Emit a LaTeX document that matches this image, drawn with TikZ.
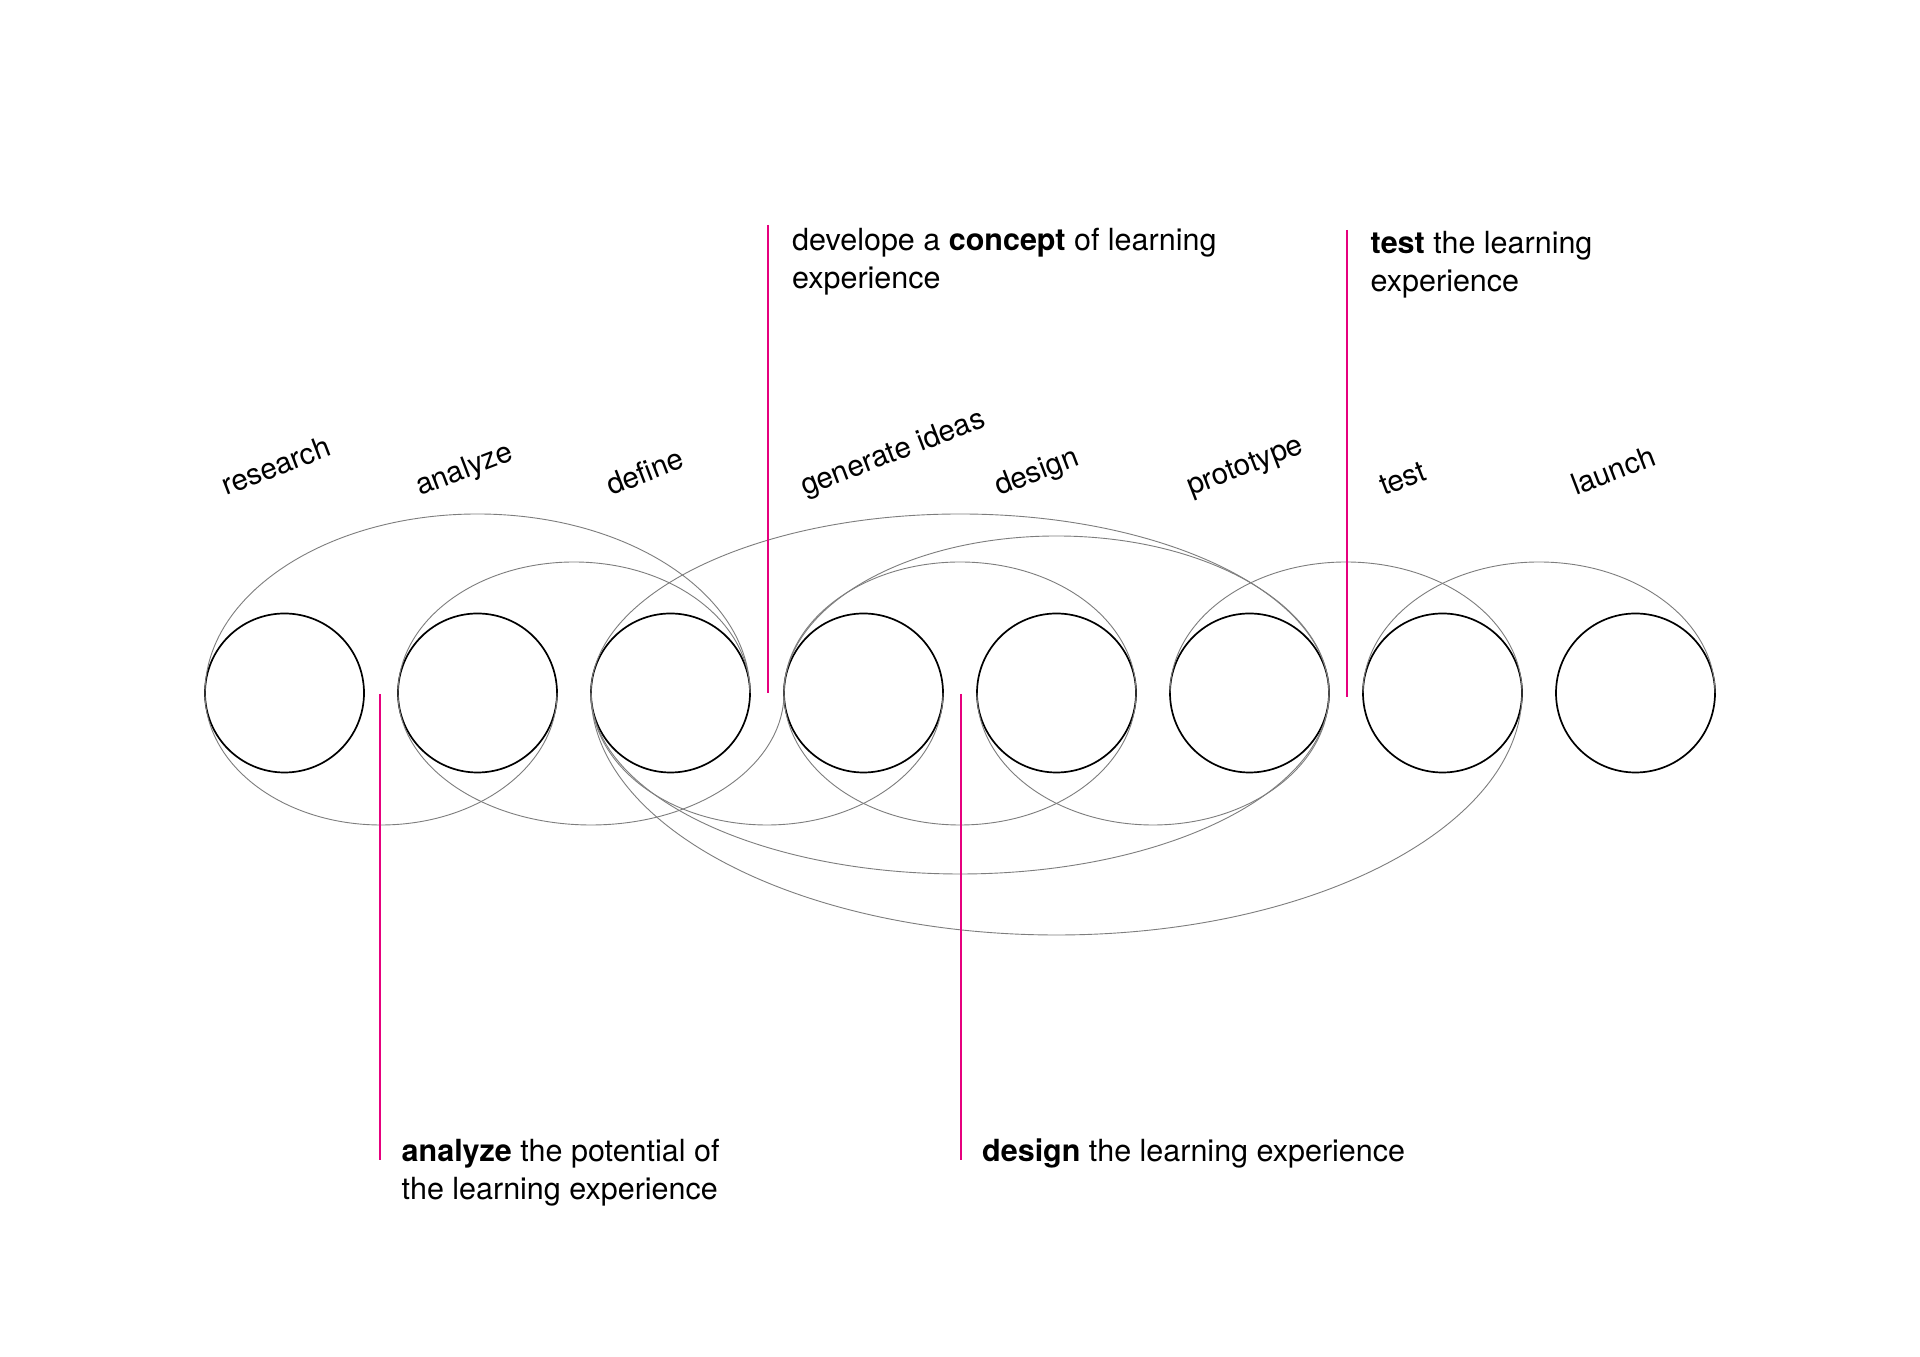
\documentclass[tikz,border=0pt]{standalone}
\usepackage{fontspec}
\setmainfont{TeX Gyre Heros}
\definecolor{mag}{RGB}{230,0,126}
\definecolor{arcgray}{RGB}{125,125,125}
\begin{document}
\begin{tikzpicture}[x=1pt,y=1pt,
  stage/.style={circle,draw=black,line width=1.7pt,minimum size=159pt,inner sep=0pt,outer sep=0pt},
  loopline/.style={draw=arcgray,line width=0.9pt},
  divider/.style={draw=mag,line width=2pt},
  phase/.style={anchor=base west,rotate=21,inner sep=0pt,font=\fontsize{29.5}{35}\selectfont},
  note/.style={anchor=base west,inner sep=0pt,font=\fontsize{30.5}{38}\selectfont}]
\fill[white] (0,0) rectangle (1920,1357);
\useasboundingbox (0,0) rectangle (1920,1357);

% stages
\node[stage] (c1) at (284.5,664) {};
\node[stage] (c2) at (477.5,664) {};
\node[stage] (c3) at (670.5,664) {};
\node[stage] (c4) at (863.5,664) {};
\node[stage] (c5) at (1056.5,664) {};
\node[stage] (c6) at (1249.5,664) {};
\node[stage] (c7) at (1442.5,664) {};
\node[stage] (c8) at (1635.5,664) {};

% upper arcs
\draw[loopline] (c1.west) arc[start angle=180,end angle=0,x radius=272.5,y radius=179];
\draw[loopline] (c2.west) arc[start angle=180,end angle=0,x radius=176,y radius=131];
\draw[loopline] (c3.west) arc[start angle=180,end angle=0,x radius=369,y radius=179];
\draw[loopline] (c4.west) arc[start angle=180,end angle=0,x radius=272.5,y radius=157];
\draw[loopline] (c4.west) arc[start angle=180,end angle=0,x radius=176,y radius=131];
\draw[loopline] (c6.west) arc[start angle=180,end angle=0,x radius=176,y radius=131];
\draw[loopline] (c7.west) arc[start angle=180,end angle=0,x radius=176,y radius=131];

% lower arcs
\draw[loopline] (c1.west) arc[start angle=180,end angle=360,x radius=176,y radius=132];
\draw[loopline] (c2.west) arc[start angle=180,end angle=360,x radius=193,y radius=132];
\draw[loopline] (c3.west) arc[start angle=180,end angle=360,x radius=176,y radius=132];
\draw[loopline] (c4.west) arc[start angle=180,end angle=360,x radius=176,y radius=132];
\draw[loopline] (c5.west) arc[start angle=180,end angle=360,x radius=176,y radius=132];
\draw[loopline] (c3.west) arc[start angle=180,end angle=360,x radius=369,y radius=181];
\draw[loopline] (c3.west) arc[start angle=180,end angle=360,x radius=465.5,y radius=242];

% phase labels
\node[phase] (lresearch) at (226,861) {research};
\node[phase] (lanalyze) at (420,861) {analyze};
\node[phase] (ldefine) at (611,861) {define};
\node[phase] (lgenerate) at (805,861) {generate ideas};
\node[phase] (ldesign) at (999,861) {design};
\node[phase] (lprototype) at (1191,861) {prototype};
\node[phase] (ltest) at (1384,861) {test};
\node[phase] (llaunch) at (1576,861) {launch};

% dividers
\coordinate (a1) at (380,663);
\coordinate (a2) at (380,197);
\coordinate (k1) at (768,1132);
\coordinate (k2) at (768,664);
\coordinate (d1) at (961,663);
\coordinate (d2) at (961,197);
\coordinate (t1) at (1347,1127);
\coordinate (t2) at (1347,660);
\draw[divider] (a1) -- (a2);
\draw[divider] (k1) -- (k2);
\draw[divider] (d1) -- (d2);
\draw[divider] (t1) -- (t2);

% notes
\node[note] (nconcept) at (792,1106.5) {\begin{tabular}[t]{@{}l@{}}develope a \textbf{concept} of learning\\experience\end{tabular}};
\node[note] (ntest) at (1370.5,1103.5) {\begin{tabular}[t]{@{}l@{}}\textbf{test} the learning\\experience\end{tabular}};
\node[note] (nanalyze) at (401.5,195.5) {\begin{tabular}[t]{@{}l@{}}\textbf{analyze} the potential of\\the learning experience\end{tabular}};
\node[note] (ndesign) at (982,195.5) {\textbf{design} the learning experience};
\end{tikzpicture}
\end{document}
